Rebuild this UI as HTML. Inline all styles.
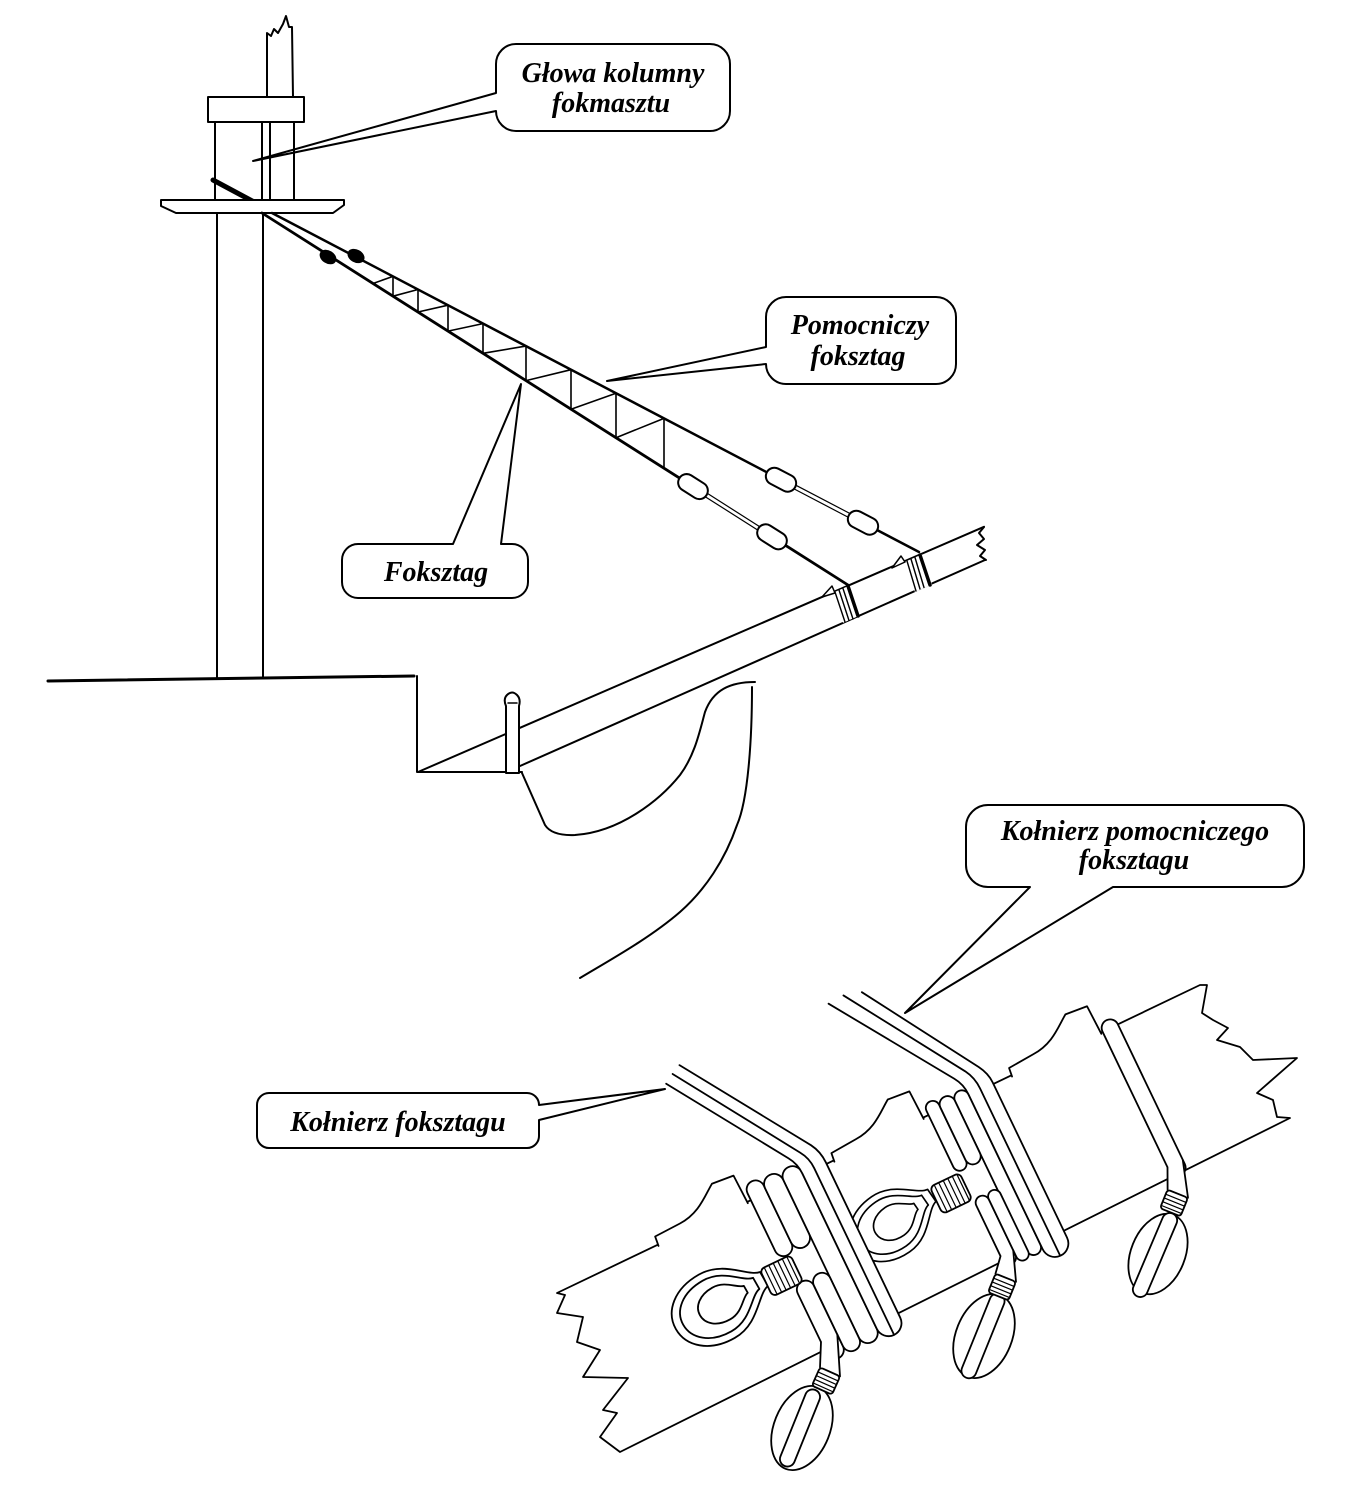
<!DOCTYPE html>
<html><head><meta charset="utf-8">
<style>
html,body{margin:0;padding:0;background:#fff}
svg{display:block}
.t{font-family:"Liberation Serif","Times New Roman",serif;font-weight:bold;font-style:italic;font-size:28px;fill:#000;stroke:none}
</style></head><body>
<svg xmlns="http://www.w3.org/2000/svg" width="1351" height="1500" viewBox="0 0 1351 1500">
<rect width="1351" height="1500" fill="#fff"/>
<g fill="none" stroke="#000" stroke-width="2" stroke-linecap="round" stroke-linejoin="round">

<!-- ===== MAST ===== -->
<path d="M267,97 L267,33 L271,36 L274,29 L278,33 L283,24 L286,16 L289,27 L292,27 L293,97"/>
<rect x="208" y="97" width="96" height="25" fill="#fff"/>
<path d="M215,122 V200 M262,122 V200 M270,122 V200 M294,122 V200"/>
<path d="M213,180 L256,203" stroke-width="5"/>
<path d="M161,200 L344,200 L344,205 L333,213 L176,213 L161,206 Z" fill="#fff"/>
<path d="M217,213 V678 M263,213 V677"/>

<!-- ===== STAYS ===== -->
<path d="M262,213 L848,585" stroke-width="2.8"/>
<path d="M272,213 L919,552" stroke-width="2.5"/>
<!-- netting -->
<g stroke-width="1.6">
<path d="M393,276.4 V296.2 M418,289.5 V312 M448,305.2 V331.1 M483,323.6 V353.3 M526,346.1 V380.6 M571,369.7 V409.2 M616,393.3 V437.7 M664,418.4 V468.2"/>
<path d="M373,283.5 L393,276.4 M393,296.2 L418,289.5 M418,312 L448,305.2 M448,331.1 L483,323.6 M483,353.3 L526,346.1 M526,380.6 L571,369.7 M571,409.2 L616,393.3 M616,437.7 L664,418.4"/>
</g>
<!-- seizing blobs -->
<ellipse rx="8" ry="5.5" transform="translate(328,257) rotate(32)" fill="#000"/>
<ellipse rx="8" ry="5.5" transform="translate(356,256) rotate(28)" fill="#000"/>
<!-- lanyards -->
<path d="M707,495.5 L758,527.9" stroke="#fff" stroke-width="6"/>
<path d="M706,497.2 L757,529.6 M708,493.8 L759,526.2" stroke-width="1.2"/>
<path d="M796,487.6 L848,514.8" stroke="#fff" stroke-width="6"/>
<path d="M795,489.4 L847,516.6 M797,485.8 L849,513" stroke-width="1.2"/>
<!-- deadeyes -->
<rect x="-16" y="-8.5" width="32" height="17" rx="8.5" transform="translate(693,486.6) rotate(32.4)" fill="#fff"/>
<rect x="-16" y="-8.5" width="32" height="17" rx="8.5" transform="translate(772,536.8) rotate(32.4)" fill="#fff"/>
<rect x="-16" y="-8.5" width="32" height="17" rx="8.5" transform="translate(781,479.7) rotate(27.6)" fill="#fff"/>
<rect x="-16" y="-8.5" width="32" height="17" rx="8.5" transform="translate(863,522.7) rotate(27.6)" fill="#fff"/>

<!-- ===== HULL / BOWSPRIT ===== -->
<path d="M48,681 L414,676" stroke-width="3"/>
<path d="M417,676 V772 H522"/>
<path d="M418,772 L984,526.8"/>
<path d="M520,766 L985,560"/>
<path d="M506,773 V706 Q503,699 507,695 Q512,690 517,695 Q521,699 519,706 V773 Z" fill="#fff"/>
<path d="M508,703 H517" stroke-width="1.5"/>
<path d="M522,773 L545,825 Q552,836 575,835 C620,832 660,800 680,775 C695,755 700,730 705,712 C713,690 730,682 755,682"/>
<path d="M752,687 C752,740 748,800 737,825 C725,860 705,890 680,912 C650,938 610,960 580,978"/>
<!-- bowsprit collars -->
<path d="M833,592.7 L849,585.7 L859,615.8 L843,622.9 Z" fill="#fff" stroke="none"/>
<path d="M822,597 L832,586 L835,593 Z" fill="#fff" stroke-width="1.5"/>
<path d="M835,592 L845,622 M839,590 L849,620.5 M843,588.5 L853,619" stroke-width="1.4"/>
<path d="M848,586 L858,616" stroke-width="3.5"/>
<path d="M905,561.8 L922,554.4 L932,584.6 L915,592.1 Z" fill="#fff" stroke="none"/>
<path d="M892,568 L901,556 L905,562 Z" fill="#fff" stroke-width="1.5"/>
<path d="M907,561 L916,591 M911,559 L920,589 M915,557.5 L924,587.5" stroke-width="1.4"/>
<path d="M920,555 L930,585" stroke-width="3.5"/>
<path d="M984,527 L979,533 L984,539 L977,545 L985,550 L980,556 L986,560"/>

<!-- ===== LABEL BOXES ===== -->
<path d="M496,93 L253,161 L496,111 A20,20 0 0 0 516,131 L710,131 A20,20 0 0 0 730,111 L730,64 A20,20 0 0 0 710,44 L516,44 A20,20 0 0 0 496,64 Z"/>
<path d="M766,347 L607,381 L766,364 A20,20 0 0 0 786,384 L936,384 A20,20 0 0 0 956,364 L956,317 A20,20 0 0 0 936,297 L786,297 A20,20 0 0 0 766,317 Z"/>
<path d="M453,544 L521,384 L501,544 L512,544 A16,16 0 0 1 528,560 L528,582 A16,16 0 0 1 512,598 L358,598 A16,16 0 0 1 342,582 L342,560 A16,16 0 0 1 358,544 Z"/>
<path d="M1030,887 L905,1013 L1113,887 L1282,887 A22,22 0 0 0 1304,865 L1304,827 A22,22 0 0 0 1282,805 L988,805 A22,22 0 0 0 966,827 L966,865 A22,22 0 0 0 988,887 Z"/>
<path d="M539,1105 L665,1089 L539,1120 L539,1136 A12,12 0 0 1 527,1148 L269,1148 A12,12 0 0 1 257,1136 L257,1105 A12,12 0 0 1 269,1093 L527,1093 A12,12 0 0 1 539,1105 Z"/>

<!-- ===== DETAIL ===== -->
<path d="M557,1293 L1200,985 L1207,985 L1202,1013 L1213,1020 L1228,1028 L1217,1040 L1240,1047 L1253,1060 L1297,1058 L1257,1093 L1273,1100 L1277,1117 L1290,1118 L620,1452 L600,1437 L617,1413 L603,1410 L628,1378 L583,1377 L600,1350 L577,1342 L583,1317 L557,1313 L565,1295 Z" fill="#fff" stroke-width="1.8"/>

<g transform="translate(558,1293) rotate(-25.6)" fill="#fff" stroke-width="1.8">
 <!-- chocks -->
 <path d="M111,1 L112,-9 L140,-10 C162,-11 174,-24 186,-32 L209,-30 L210,1"/>
 <path d="M306,1 L307,-8 L335,-10 C357,-11 369,-24 381,-32 L404,-30 L405,1"/>
 <path d="M503,1 L504,-8 L532,-10 C554,-11 566,-24 578,-32 L601,-30 L602,1"/>

 <!-- collar 2 -->
 <rect x="441" y="-9" width="15" height="181" rx="7.5"/>
 <rect x="411" y="-12" width="14" height="76" rx="7"/>
 <rect x="425" y="-10" width="16" height="74" rx="8"/>
 <rect x="415" y="95" width="14" height="75" rx="7"/>
 <rect x="429" y="95" width="13" height="77" rx="6.5"/>
 <path d="M369,-144 L450,-22 Q456,-13 456,-2 L456,170 A13.5,13.5 0 0 0 483,170 L483,-2 Q483,-12 477,-22 L404,-140"/>
 <path d="M386,-145 L463,-24 Q469,-14 469,-2 L469,183" fill="none"/>
 <!-- thimble 2 -->
 <g transform="translate(332,81) rotate(-9) scale(0.92)">
  <path d="M52,-8 C39,-10 26,-36 -2.6,-36 C-31.2,-36 -49.4,-20 -49.4,0 C-49.4,20 -31.2,36.8 -2.6,36.8 C26,36.8 39,10 52,8 Z"/>
  <path d="M43,-6.4 C32.3,-8 21.5,-28.8 -2.2,-28.8 C-25.8,-28.8 -40.9,-16 -40.9,0 C-40.9,16 -25.8,29.4 -2.2,29.4 C21.5,29.4 32.3,8 43,6.4 Z"/>
  <path d="M31,-4 C24.3,-5 17.5,-18 2.65,-18 C-12.2,-18 -21.65,-10 -21.65,0 C-21.65,10 -12.2,18.4 2.65,18.4 C17.5,18.4 24.3,5 31,4 Z"/>
 </g>
 <rect x="381" y="65" width="33" height="30" rx="5"/>
 <path d="M386,66 V94 M391,66 V94 M396,66 V94 M401,66 V94 M406,66 V94 M411,66 V94" fill="none" stroke-width="1.2"/>

 <!-- collar 1 -->
 <rect x="252" y="-14" width="20" height="194" rx="10"/>
 <rect x="214" y="-17" width="18" height="82" rx="9"/>
 <rect x="232" y="-15" width="20" height="80" rx="10"/>
 <rect x="216" y="95" width="18" height="85" rx="9"/>
 <rect x="234" y="95" width="18" height="85" rx="9"/>
 <path d="M188,-142 L266,-22 Q272,-13 272,-2 L272,170 A13,13 0 0 0 298,170 L298,-2 Q298,-14 292,-24 L208,-153"/>
 <path d="M198,-148 L279,-22 Q285,-13 285,-2 L285,182" fill="none"/>
 <!-- thimble 1 -->
 <g transform="translate(140,80) rotate(-4)">
  <path d="M52,-8 C39,-10 26,-36 -2.6,-36 C-31.2,-36 -49.4,-20 -49.4,0 C-49.4,20 -31.2,36.8 -2.6,36.8 C26,36.8 39,10 52,8 Z"/>
  <path d="M43,-6.4 C32.3,-8 21.5,-28.8 -2.2,-28.8 C-25.8,-28.8 -40.9,-16 -40.9,0 C-40.9,16 -25.8,29.4 -2.2,29.4 C21.5,29.4 32.3,8 43,6.4 Z"/>
  <path d="M31,-4 C24.3,-5 17.5,-18 2.65,-18 C-12.2,-18 -21.65,-10 -21.65,0 C-21.65,10 -12.2,18.4 2.65,18.4 C17.5,18.4 24.3,5 31,4 Z"/>
 </g>
 <rect x="192" y="66" width="34" height="30" rx="5"/>
 <path d="M197,67 V95 M202,67 V95 M207,67 V95 M212,67 V95 M217,67 V95 M222,67 V95" fill="none" stroke-width="1.2"/>

 <!-- ring 3 -->
 <rect x="604" y="-9" width="17" height="172" rx="8.5"/>
</g>

<!-- toggles -->
<g stroke-width="1.8">
 <!-- toggle 1 -->
 <path d="M821,1342 L837.3,1334.4 L840,1376.4 L820,1367.5 Z" fill="#fff" stroke="none"/>
 <path d="M821,1342 L820,1367.5 M837.3,1334.4 L840,1376.4"/>
 <ellipse rx="28" ry="44" transform="translate(802,1428) rotate(22)" fill="#fff"/>
 <rect x="-7.5" y="-41" width="15" height="82" rx="7.5" transform="translate(800,1428) rotate(22)" fill="#fff"/>
 <g transform="translate(826,1381) rotate(24)"><rect x="-11" y="-10" width="22" height="20" rx="3" fill="#fff"/><path d="M-11,-5 H11 M-11,-1 H11 M-11,3 H11 M-11,7 H11" stroke-width="1.2"/></g>

 <!-- toggle 2 -->
 <path d="M1000.5,1256.2 L1013.2,1250.1 L1016,1281.8 L995.5,1273.6 Z" fill="#fff" stroke="none"/>
 <path d="M1000.5,1256.2 L995.5,1273.6 M1013.2,1250.1 L1016,1281.8"/>
 <ellipse rx="28" ry="44" transform="translate(984,1336) rotate(22)" fill="#fff"/>
 <rect x="-7.5" y="-45" width="15" height="90" rx="7.5" transform="translate(983,1336) rotate(22)" fill="#fff"/>
 <g transform="translate(1002,1287) rotate(22)"><rect x="-11" y="-10" width="22" height="20" rx="3" fill="#fff"/><path d="M-11,-5 H11 M-11,-1 H11 M-11,3 H11 M-11,7 H11" stroke-width="1.2"/></g>

 <!-- toggle 3 -->
 <path d="M1167.5,1167.3 L1182.8,1160 L1188,1197.8 L1167.6,1189.6 Z" fill="#fff" stroke="none"/>
 <path d="M1167.5,1167.3 L1167.6,1189.6 M1182.8,1160 L1188,1197.8"/>
 <ellipse rx="27" ry="42" transform="translate(1158,1254) rotate(22)" fill="#fff"/>
 <rect x="-7.5" y="-45" width="15" height="90" rx="7.5" transform="translate(1155,1255) rotate(23)" fill="#fff"/>
 <g transform="translate(1174,1203) rotate(22)"><rect x="-11" y="-10" width="22" height="20" rx="3" fill="#fff"/><path d="M-11,-5 H11 M-11,-1 H11 M-11,3 H11 M-11,7 H11" stroke-width="1.2"/></g>
</g>
</g>

<!-- ===== TEXT ===== -->
<text class="t" x="613" y="82" text-anchor="middle">Głowa kolumny</text>
<text class="t" x="611" y="112" text-anchor="middle">fokmasztu</text>
<text class="t" x="860" y="334" text-anchor="middle">Pomocniczy</text>
<text class="t" x="858" y="365" text-anchor="middle">foksztag</text>
<text class="t" x="436" y="581" text-anchor="middle">Foksztag</text>
<text class="t" x="1135" y="840" text-anchor="middle">Kołnierz pomocniczego</text>
<text class="t" x="1134" y="869" text-anchor="middle">foksztagu</text>
<text class="t" x="398" y="1131" text-anchor="middle">Kołnierz foksztagu</text>
</svg>
</body></html>
